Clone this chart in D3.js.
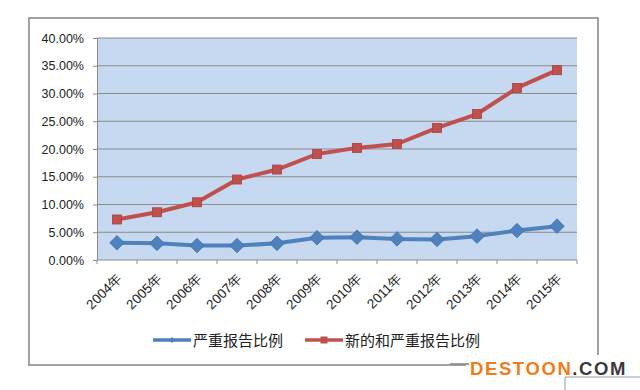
<!DOCTYPE html>
<html>
<head>
<meta charset="UTF-8">
<title>严重报告比例</title>
<script src="https://d3js.org/d3.v7.min.js"></script>
<style>
    body { margin: 0; background: #fff; }
    svg text { font-family: "Liberation Sans", "DejaVu Sans", sans-serif; }
    .cjk { font-family: "Noto Sans CJK SC", sans-serif; }
</style>
</head>
<body>
<svg id="chart" width="640" height="390"></svg>
<script>
    // 数据
    const years = ["2004年", "2005年", "2006年", "2007年", "2008年", "2009年",
                   "2010年", "2011年", "2012年", "2013年", "2014年", "2015年"];
    const seriousRatio = [0.031, 0.030, 0.026, 0.026, 0.030, 0.040,
                          0.041, 0.038, 0.037, 0.043, 0.053, 0.061];
    const newAndSeriousRatio = [0.073, 0.086, 0.104, 0.145, 0.163, 0.191,
                                0.202, 0.209, 0.238, 0.263, 0.310, 0.342];
    const yTicks = [0, 0.05, 0.10, 0.15, 0.20, 0.25, 0.30, 0.35, 0.40];
    const seriesNames = ["严重报告比例", "新的和严重报告比例"];

    const blue = "#4f81bd", red = "#c0504d";

    const svg = d3.select("#chart");

    // 外框
    svg.append("rect")
        .attr("x", 29).attr("y", 18)
        .attr("width", 569).attr("height", 347)
        .attr("fill", "#fff")
        .attr("stroke", "#8a8a8a")
        .attr("stroke-width", 1.6);

    const plot = { left: 97, right: 577, top: 38, bottom: 260 };

    const x = d3.scaleBand().domain(years).range([plot.left, plot.right]);
    const y = d3.scaleLinear().domain([0, 0.40]).range([plot.bottom, plot.top]);

    // 绘图区背景
    svg.append("rect")
        .attr("x", plot.left).attr("y", plot.top)
        .attr("width", plot.right - plot.left)
        .attr("height", plot.bottom - plot.top)
        .attr("fill", "#c6d9f1");

    // 网格线
    svg.append("g")
        .selectAll("line")
        .data(yTicks.filter(d => d > 0))
        .join("line")
        .attr("x1", plot.left).attr("x2", plot.right)
        .attr("y1", d => y(d)).attr("y2", d => y(d))
        .attr("stroke", "#8b8b8b")
        .attr("stroke-width", 1);

    // y 轴
    const yAxis = svg.append("g")
        .attr("transform", `translate(${plot.left},0)`)
        .call(d3.axisLeft(y).tickValues(yTicks).tickFormat(d3.format(".2%")).tickSize(4).tickPadding(9));
    yAxis.select(".domain").attr("stroke", "#8b8b8b");
    yAxis.selectAll(".tick line").attr("stroke", "#8b8b8b");
    yAxis.selectAll("text").attr("font-size", 12.5).attr("fill", "#222")
        .attr("font-family", "Liberation Sans, sans-serif");

    // x 轴 (刻度在类别分界处)
    const xAxisG = svg.append("g");
    xAxisG.append("line")
        .attr("x1", plot.left).attr("x2", plot.right)
        .attr("y1", plot.bottom).attr("y2", plot.bottom)
        .attr("stroke", "#8b8b8b");
    const bounds = years.map(d => x(d)).concat([plot.right]);
    xAxisG.selectAll(".xt")
        .data(bounds)
        .join("line")
        .attr("class", "xt")
        .attr("x1", d => d).attr("x2", d => d)
        .attr("y1", plot.bottom).attr("y2", plot.bottom + 4)
        .attr("stroke", "#8b8b8b");
    xAxisG.selectAll(".xl")
        .data(years)
        .join("text")
        .attr("class", "xl")
        .attr("text-anchor", "end")
        .attr("font-size", 13.5)
        .attr("fill", "#222")
        .attr("transform", d => `translate(${x(d) + x.bandwidth() / 2 + 6},${plot.bottom + 19}) rotate(-45)`)
        .text(d => d);

    const line = d3.line()
        .x((d, i) => x(years[i]) + x.bandwidth() / 2)
        .y(d => y(d));

    // 蓝色系列
    svg.append("path")
        .datum(seriousRatio)
        .attr("d", line)
        .attr("fill", "none")
        .attr("stroke", blue)
        .attr("stroke-width", 4)
        .attr("stroke-linejoin", "round");
    svg.selectAll(".dia")
        .data(seriousRatio)
        .join("path")
        .attr("class", "dia")
        .attr("d", d3.symbol(d3.symbolDiamond2, 135)())
        .attr("transform", (d, i) => `translate(${x(years[i]) + x.bandwidth() / 2},${y(d)})`)
        .attr("fill", blue)
        .attr("stroke", "#3f70aa")
        .attr("stroke-width", 0.8);

    // 红色系列
    svg.append("path")
        .datum(newAndSeriousRatio)
        .attr("d", line)
        .attr("fill", "none")
        .attr("stroke", red)
        .attr("stroke-width", 4)
        .attr("stroke-linejoin", "round");
    svg.selectAll(".sq")
        .data(newAndSeriousRatio)
        .join("rect")
        .attr("class", "sq")
        .attr("x", (d, i) => x(years[i]) + x.bandwidth() / 2 - 4.5)
        .attr("y", d => y(d) - 4.5)
        .attr("width", 9).attr("height", 9)
        .attr("fill", red)
        .attr("stroke", "#a8403d")
        .attr("stroke-width", 0.8);

    // 图例
    const legend = svg.append("g");
    legend.append("line").attr("x1", 153).attr("x2", 191).attr("y1", 340).attr("y2", 340)
        .attr("stroke", blue).attr("stroke-width", 3.5);
    legend.append("path").attr("d", d3.symbol(d3.symbolDiamond2, 22)())
        .attr("transform", "translate(172,340)").attr("fill", blue);
    legend.append("text").attr("class", "cjk").attr("x", 193).attr("y", 345.5)
        .attr("font-size", 15).attr("fill", "#222").text(seriesNames[0]);
    legend.append("line").attr("x1", 305).attr("x2", 343).attr("y1", 340).attr("y2", 340)
        .attr("stroke", red).attr("stroke-width", 3.5);
    legend.append("rect").attr("x", 320.5).attr("y", 336.5).attr("width", 7).attr("height", 7)
        .attr("fill", red);
    legend.append("text").attr("class", "cjk").attr("x", 345).attr("y", 345.5)
        .attr("font-size", 15).attr("fill", "#222").text(seriesNames[1]);

    // 水印
    const wm = svg.append("g");
    wm.append("rect").attr("x", 466).attr("y", 355).attr("width", 166).attr("height", 24).attr("fill", "#fff");
    wm.append("line").attr("x1", 450).attr("x2", 469).attr("y1", 364).attr("y2", 364)
        .attr("stroke", "#8a8a8a").attr("stroke-width", 1.6);
    wm.append("text")
        .attr("x", 470).attr("y", 374.5)
        .attr("font-size", 18.5).attr("font-weight", "bold")
        .attr("font-family", "DejaVu Sans, sans-serif")
        .attr("letter-spacing", 1.6)
        .html('<tspan fill="#f07d1a">DESTOON</tspan><tspan fill="#3a3a3a">.COM</tspan>');
    wm.append("path").attr("d", "M565,390 V377 H640").attr("fill", "none").attr("stroke", "#999");
</script>
</body>
</html>
